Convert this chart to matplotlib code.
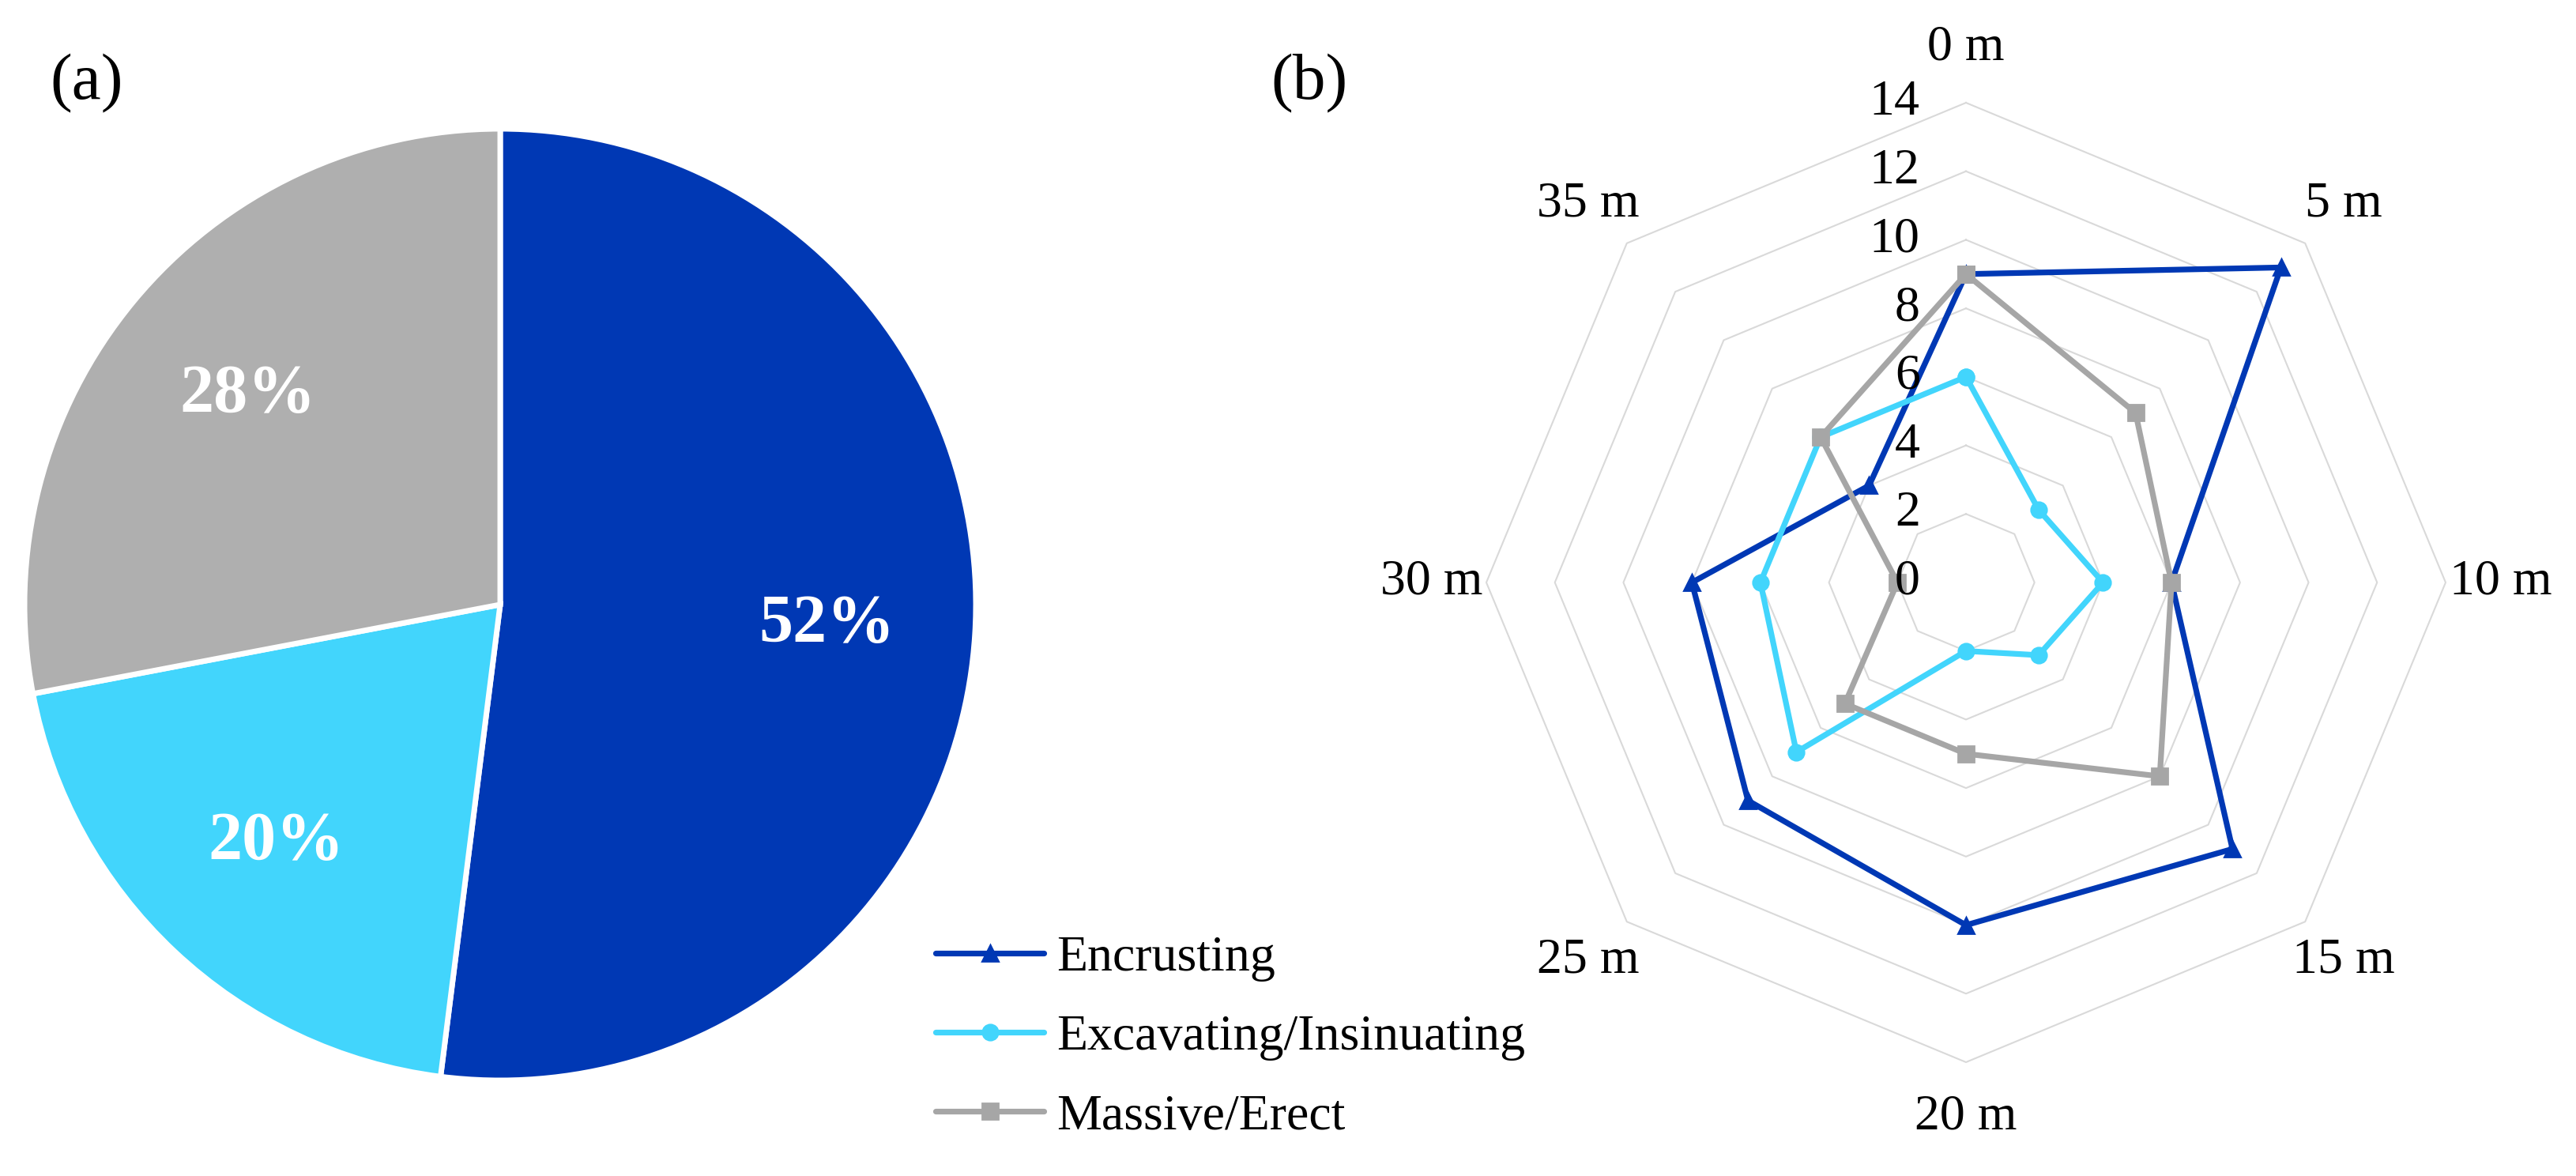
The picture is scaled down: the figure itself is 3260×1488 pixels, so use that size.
import numpy as np
import matplotlib
matplotlib.use("Agg")
import matplotlib.pyplot as plt

plt.rcParams['font.family'] = ['Liberation Serif', 'DejaVu Serif']

# data
pie_labels = ['Encrusting', 'Excavating/Insinuating', 'Massive/Erect']
pie_values = [52, 20, 28]

depths = ['0 m', '5 m', '10 m', '15 m', '20 m', '25 m', '30 m', '35 m']
encrusting = [9, 13, 6, 11, 10, 9, 8, 4]
excavating = [6, 3, 4, 3, 2, 7, 6, 6]
massive = [9, 7, 6, 8, 5, 5, 2, 6]
r_ticks = [0, 2, 4, 6, 8, 10, 12, 14]

c_blue = '#0038B4'
c_cyan = '#42D5FC'
c_gray = '#AFAFAF'
c_gray_line = '#A6A6A6'
c_grid = '#D9D9D9'

W, H = 3260, 1488
fig = plt.figure(figsize=(W / 200, H / 200), dpi=200)

# (a) pie
pcx, pcy, pr = 633, 765, 602
ax1 = fig.add_axes([(pcx - pr) / W, (H - pcy - pr) / H, 2 * pr / W, 2 * pr / H])
wedges, texts, autotexts = ax1.pie(
    pie_values, colors=[c_blue, c_cyan, c_gray], startangle=90, counterclock=False,
    autopct='%d%%', pctdistance=0.688,
    wedgeprops=dict(edgecolor='white', linewidth=2.5),
    textprops=dict(color='white', fontsize=31, fontweight='bold'))
ax1.set_xlim(-1, 1)
ax1.set_ylim(-1, 1)
ax1.set_aspect('equal')

# (b) radar
rcx, rcy, rr = 2488, 737, 607
ax2 = fig.add_axes([(rcx - rr) / W, (H - rcy - rr) / H, 2 * rr / W, 2 * rr / H],
                   projection='polar')
ax2.set_theta_zero_location('N')
ax2.set_theta_direction(-1)
ax2.set_ylim(0, 14)
ax2.grid(False)
ax2.spines['polar'].set_visible(False)
ax2.set_xticks([])
ax2.set_yticks([])
ax2.patch.set_visible(False)

n = len(depths)
ang = np.linspace(0, 2 * np.pi, n, endpoint=False)
ang_c = np.append(ang, ang[0])

for v in r_ticks[1:]:
    ax2.plot(ang_c, [v] * (n + 1), color=c_grid, lw=0.75, zorder=0, clip_on=False)

for v in r_ticks:
    ax2.annotate(str(v), xy=(0, v), xytext=(-21, 0), textcoords='offset points',
                 ha='right', va='center', fontsize=23)

series = [(encrusting, 'Encrusting', c_blue, '^', 7.5),
          (excavating, 'Excavating/Insinuating', c_cyan, 'o', 7),
          (massive, 'Massive/Erect', c_gray_line, 's', 7)]
handles = []
for vals, name, col, mk, ms in series:
    ln, = ax2.plot(ang_c, vals + vals[:1], color=col, lw=2.6, marker=mk, ms=ms,
                   label=name, clip_on=False, solid_capstyle='round')
    handles.append(ln)

for a, lab in zip(ang, depths):
    ax2.text(a, 15.6, lab, ha='center', va='center', fontsize=23)

fig.legend(handles=handles, loc='center left',
           bbox_to_anchor=(1184 / W, (H - 1313) / H),
           frameon=False, fontsize=23, handlelength=2.15, handletextpad=0.25,
           labelspacing=0.65, borderpad=0, borderaxespad=0)

fig.text(63 / W, 1 - 106 / H, '(a)', fontsize=30, ha='left', va='center')
fig.text(1608 / W, 1 - 106 / H, '(b)', fontsize=30, ha='left', va='center')

fig.savefig('out.png', dpi=200, facecolor='white')
